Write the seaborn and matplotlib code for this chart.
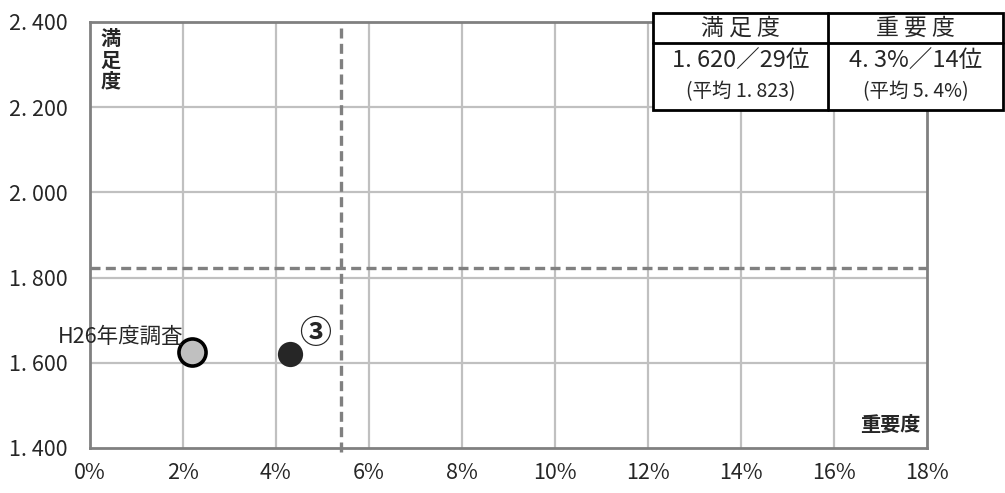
import matplotlib
matplotlib.use("Agg")
import matplotlib.pyplot as plt
import seaborn as sns
import pandas as pd
from matplotlib.patches import Rectangle
from matplotlib.lines import Line2D

# data
labels = ["H26年度調査", "今回"]
importance = [2.2, 4.3]          # 重要度 (%)
satisfaction = [1.625, 1.620]    # 満足度
avg_importance = 5.4
avg_satisfaction = 1.823
x_ticks = [0, 2, 4, 6, 8, 10, 12, 14, 16, 18]
y_ticks = [1.4, 1.6, 1.8, 2.0, 2.2, 2.4]
table_header = ["満 足 度", "重 要 度"]
table_row1 = ["1. 620／29位", "4. 3%／14位"]
table_row2 = ["(平均 1. 823)", "(平均 5. 4%)"]

df = pd.DataFrame({"label": labels, "importance": importance, "satisfaction": satisfaction})

sns.set_theme(style="white")
plt.rcParams["font.family"] = ["Noto Sans CJK JP", "DejaVu Sans"]

W, H = 1005, 493
fig = plt.figure(figsize=(W / 100, H / 100), dpi=100)
ax = fig.add_axes([90 / W, (H - 448) / H, (927 - 90) / W, (448 - 22) / H])

grid_c = "#c0c0c0"
for xv in x_ticks[1:-1]:
    ax.axvline(xv, color=grid_c, lw=1.6, zorder=0)
for yv in y_ticks[1:-1]:
    ax.axhline(yv, color=grid_c, lw=1.6, zorder=0)

ax.axhline(avg_satisfaction, color="#808080", lw=2.4, ls=(0, (3, 1.6)), zorder=1)
ax.axvline(avg_importance, ymin=-0.01, color="#808080", lw=2.4, ls=(0, (3, 1.6)),
           zorder=1, clip_on=False)

prev = df[df["label"] == "H26年度調査"]
curr = df[df["label"] == "今回"]
sns.scatterplot(data=prev, x="importance", y="satisfaction", ax=ax, s=380,
                color="#c0c0c0", edgecolor="black", linewidth=2.6, zorder=3, legend=False)
sns.scatterplot(data=curr, x="importance", y="satisfaction", ax=ax, s=330,
                color="#262626", edgecolor="#262626", linewidth=0, zorder=3, legend=False)

ax.text(-0.7, 1.662, "H26年度調査", fontsize=15.5, ha="left", va="center", clip_on=False)
ax.text(4.5, 1.668, "③", fontsize=23, fontweight="bold", ha="left", va="center")

ax.set_xlim(0, 18)
ax.set_ylim(1.4, 2.4)
ax.set_xticks(x_ticks)
ax.set_xticklabels([f"{v}%" for v in x_ticks], fontsize=15.5)
ax.set_yticks(y_ticks)
ax.set_yticklabels([f"{v:.3f}".replace(".", ". ") for v in y_ticks], fontsize=15.5)
ax.tick_params(axis="x", length=0, pad=10)
ax.tick_params(axis="y", length=0, pad=16)
ax.set_xlabel("")
ax.set_ylabel("")
for sp in ax.spines.values():
    sp.set_color("#808080")
    sp.set_linewidth(2)

ax.text(0.22, 2.385, "満\n足\n度", fontsize=14.5, fontweight="bold", ha="left", va="top",
        linespacing=1.0)
ax.text(17.85, 1.43, "重要度", fontsize=14.5, fontweight="bold", ha="right", va="bottom")

# summary table (figure pixel coords)
def fx(px):
    return px / W

def fy(py):
    return 1 - py / H

tl, tr, tt, tb = 653, 1003, 13, 110
mid_x, head_y = 828, 43
fig.patches.append(Rectangle((fx(tl), fy(tb)), fx(tr) - fx(tl), fy(tt) - fy(tb),
                             transform=fig.transFigure, facecolor="white",
                             edgecolor="black", lw=2, zorder=5))
fig.lines.append(Line2D([fx(tl), fx(tr)], [fy(head_y), fy(head_y)],
                        transform=fig.transFigure, color="black", lw=2, zorder=6))
fig.lines.append(Line2D([fx(mid_x), fx(mid_x)], [fy(tt), fy(tb)],
                        transform=fig.transFigure, color="black", lw=2, zorder=6))
for i, cx in enumerate([(tl + mid_x) / 2, (mid_x + tr) / 2]):
    fig.text(fx(cx), fy(28), table_header[i], fontsize=16.5, ha="center", va="center", zorder=7)
    fig.text(fx(cx), fy(61), table_row1[i], fontsize=17, ha="center", va="center", zorder=7)
    fig.text(fx(cx), fy(92), table_row2[i], fontsize=14, ha="center", va="center", zorder=7)

fig.savefig("out.png", dpi=100)
